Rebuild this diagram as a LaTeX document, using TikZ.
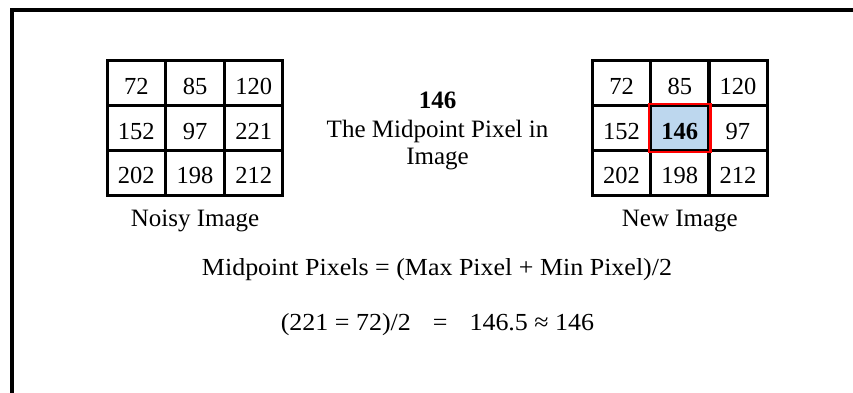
\documentclass[tikz,border=0pt]{standalone}
\usepackage{fontspec}
\setmainfont{Liberation Serif}
\newfontfamily\formulafont[FakeStretch=1.06]{Liberation Serif}
\definecolor{cellblue}{RGB}{189,215,238}
\begin{document}
\begin{tikzpicture}[x=1pt,y=-1pt,
  cell/.style={draw, line width=3pt, minimum width=58.5pt, minimum height=44.7pt,
    inner sep=0pt, text height=22pt, text depth=0pt,
    font=\fontsize{24.5}{28}\selectfont},
  lbl/.style={anchor=base, inner sep=0pt, font=\fontsize{25}{29}\selectfont},
  mid/.style={anchor=base, inner sep=0pt, font=\fontsize{25}{29}\selectfont},
  formula/.style={anchor=base, inner sep=0pt, font=\formulafont\fontsize{24.5}{28}\selectfont}]
\useasboundingbox (0,0) rectangle (853,392);
% frame
\draw[line width=4pt, line join=miter] (12,394) -- (12,10) -- (855,10);

% left grid
\node[cell] (l11) at (136.3,83.3) {72};
\node[cell] (l12) at (195,83.3) {85};
\node[cell] (l13) at (253.7,83.3) {120};
\node[cell] (l21) at (136.3,128) {152};
\node[cell] (l22) at (195,128) {97};
\node[cell] (l23) at (253.7,128) {221};
\node[cell] (l31) at (136.3,172.7) {202};
\node[cell] (l32) at (195,172.7) {198};
\node[cell] (l33) at (253.7,172.7) {212};
\node[lbl] (noisy) at (195,226.5) {Noisy Image};

% right grid
\node[cell] (r11) at (621.6,83.3) {72};
\node[cell] (r12) at (679.8,83.3) {85};
\node[cell] (r13) at (737.9,83.3) {120};
\node[cell] (r21) at (621.6,128) {152};
\node[cell, fill=cellblue] (r22) at (679.8,128) {\textbf{146}};
\node[cell] (r23) at (737.9,128) {97};
\node[cell] (r31) at (621.6,172.7) {202};
\node[cell] (r32) at (679.8,172.7) {198};
\node[cell] (r33) at (737.9,172.7) {212};
\draw[red, line width=2.5pt] (r22.north west) rectangle (r22.south east);
\node[lbl] (newimg) at (679.8,226) {New Image};

% middle text
\node[mid] (val) at (437.5,108.5) {\textbf{146}};
\node[mid] (desc1) at (437.5,137) {The Midpoint Pixel in};
\node[mid] (desc2) at (437.5,164) {Image};

% formulas
\node[formula] (f1) at (437,275) {Midpoint Pixels = (Max Pixel + Min Pixel)/2};
\node[formula] (f2) at (437.5,330) {(221 = 72)/2\hspace{22pt}=\hspace{22pt}146.5 ≈ 146};
\end{tikzpicture}
\end{document}
